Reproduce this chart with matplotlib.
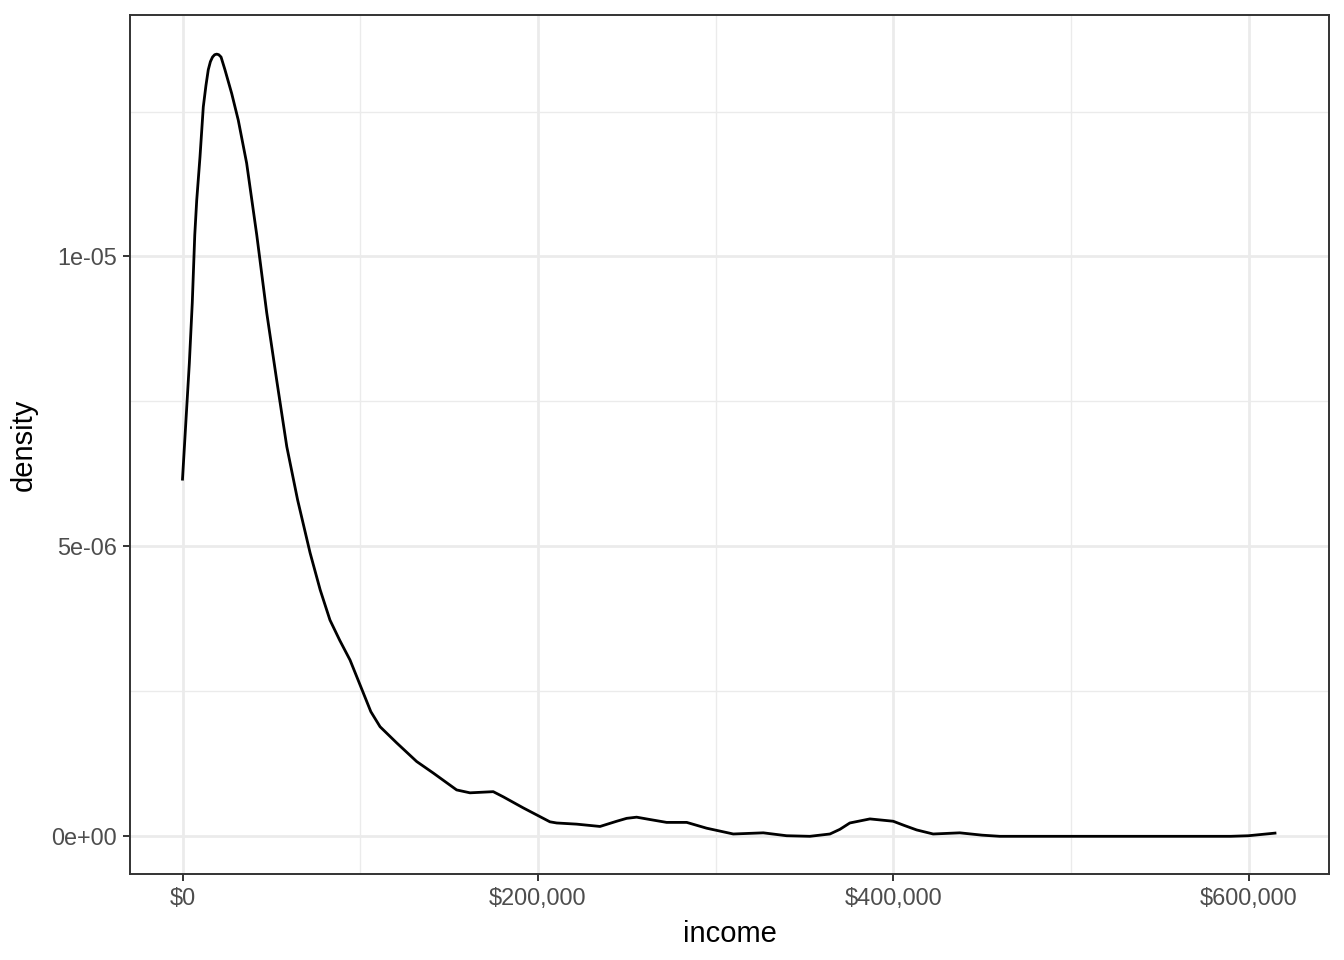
import numpy as np
import matplotlib
matplotlib.use("Agg")
import matplotlib.pyplot as plt
from matplotlib.ticker import FixedLocator, FuncFormatter

plt.rcParams['font.family'] = ['Liberation Sans', 'DejaVu Sans']

# density curve (income in $, density in units of 1e-6)
income = [0, 1900, 3850, 5500, 6900, 8000, 9850, 11700, 13200, 14500,
          15700, 16900, 18100, 19250, 20400, 21700, 23900, 27700, 31400,
          36100, 41800, 47400, 53000, 58700, 64800, 71800, 77500, 83000,
          88500, 94300, 101800, 106000, 111200, 120600, 131800, 141200,
          154300, 161800, 174900, 180600, 191800, 206800, 210600, 221800,
          235000, 244400, 250000, 255600, 263000, 272500, 283800, 295000,
          310000, 326900, 340000, 353100, 364400, 370000, 375600, 386900,
          400000, 406000, 413200, 422500, 437500, 450000, 460000, 500000,
          550000, 590000, 600000, 614900]
density = [6.16, 7.15, 8.16, 9.20, 10.37, 10.97, 11.72, 12.58, 12.95, 13.22,
           13.36, 13.44, 13.48, 13.49, 13.48, 13.44, 13.22, 12.81, 12.35,
           11.61, 10.37, 9.03, 7.87, 6.72, 5.80, 4.89, 4.25, 3.73,
           3.38, 3.04, 2.47, 2.15, 1.89, 1.61, 1.29, 1.09,
           0.80, 0.75, 0.77, 0.68, 0.49, 0.25, 0.23, 0.21,
           0.17, 0.26, 0.31, 0.33, 0.29, 0.24, 0.24, 0.14,
           0.04, 0.06, 0.01, 0.0, 0.04, 0.12, 0.23, 0.30,
           0.26, 0.19, 0.11, 0.04, 0.06, 0.02, 0.0, 0.0,
           0.0, 0.0, 0.01, 0.055]

x_major = [0, 200000, 400000, 600000]
x_minor = [100000, 300000, 500000]
y_major = [0, 5e-6, 1e-5]
y_minor = [2.5e-6, 7.5e-6, 1.25e-5]
y_labels = ["0e+00", "5e-06", "1e-05"]

fig = plt.figure(figsize=(13.44, 9.6), dpi=100)
ax = fig.add_axes([130 / 1344, 1 - 874 / 960, 1199 / 1344, 859 / 960])

y = np.array(density) * 1e-6
ax.plot(income, y, color="black", lw=2.0, zorder=3, solid_joinstyle="round")

ax.set_xlim(-29550, 645300)
ax.set_ylim(-0.65e-6, 14.165e-6)

ax.xaxis.set_major_locator(FixedLocator(x_major))
ax.xaxis.set_minor_locator(FixedLocator(x_minor))
ax.yaxis.set_major_locator(FixedLocator(y_major))
ax.yaxis.set_minor_locator(FixedLocator(y_minor))
ax.xaxis.set_major_formatter(FuncFormatter(lambda v, p: "${:,.0f}".format(v)))
ax.set_yticklabels(y_labels)

ax.grid(True, which="major", color="#EBEBEB", lw=2.0)
ax.grid(True, which="minor", color="#EBEBEB", lw=1.0)
ax.set_axisbelow(True)

ax.tick_params(which="major", length=5.3, width=1.4, color="#333333",
               labelsize=16.9, labelcolor="#4D4D4D", pad=4)
ax.tick_params(which="minor", length=0)
for s in ax.spines.values():
    s.set_color("#333333")
    s.set_linewidth(1.4)

ax.set_xlabel("income", fontsize=21, labelpad=7)
ax.set_ylabel("density", fontsize=21, labelpad=10)

fig.savefig("out.png", dpi=100)
